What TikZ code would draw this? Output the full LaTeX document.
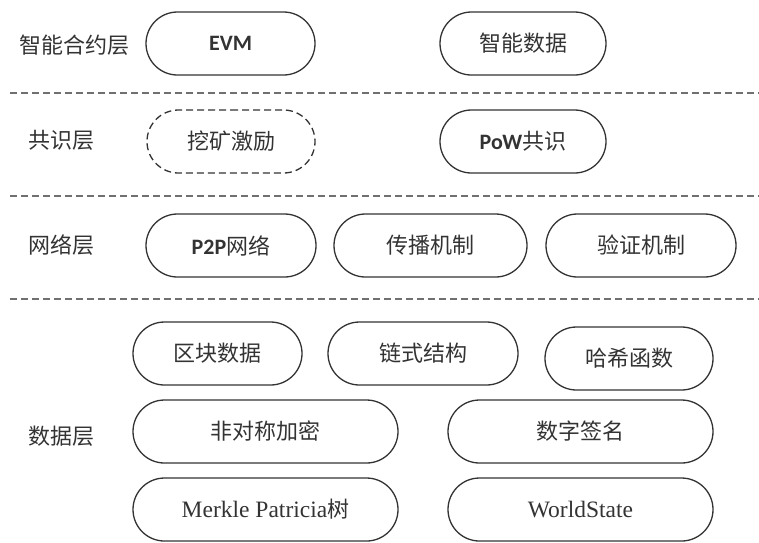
\documentclass[tikz,border=0pt]{standalone}
\usepackage{fontspec}
\setmainfont{Noto Sans CJK SC}
\newfontfamily\carl{Carlito}
\newfontfamily\tnr{Liberation Serif}
\usetikzlibrary{shapes.misc}
\definecolor{ink}{HTML}{333333}
\definecolor{sep}{HTML}{707070}
\tikzset{
  pill/.style={rounded rectangle, draw=ink, line width=1.3pt, text=ink,
    minimum height=63pt, inner sep=0pt, font=\fontsize{22}{24}\selectfont},
  dpill/.style={pill, dash pattern=on 7pt off 4pt},
  layer/.style={text=ink, inner sep=0pt, font=\fontsize{22}{24}\selectfont},
  sepline/.style={draw=sep, line width=1.8pt, dash pattern=on 7pt off 4pt}
}
\begin{document}
\begin{tikzpicture}[x=1pt,y=-1pt]
\useasboundingbox (0,0) rectangle (759,542);
% separators
\coordinate (s1a) at (10,93);  \coordinate (s1b) at (759,93);
\coordinate (s2a) at (10,196); \coordinate (s2b) at (759,196);
\coordinate (s3a) at (10,299); \coordinate (s3b) at (759,299);
\draw[sepline] (s1a) -- (s1b);
\draw[sepline] (s2a) -- (s2b);
\draw[sepline] (s3a) -- (s3b);
% layer labels
\node[layer] (l1) at (74,45) {智能合约层};
\node[layer] (l2) at (61,140) {共识层};
\node[layer] (l3) at (61,245) {网络层};
\node[layer] (l4) at (61,436) {数据层};
% smart contract layer
\node[pill, minimum width=169pt] (evm) at (230.5,43.5) {\carl\bfseries EVM};
\node[pill, minimum width=166pt] (sd) at (523,43.5) {智能数据};
% consensus layer
\node[dpill, minimum width=168pt] (mine) at (231,141.5) {挖矿激励};
\node[pill, minimum width=166pt] (pow) at (523,141.5) {{\carl\bfseries PoW}共识};
% network layer
\node[pill, minimum width=170pt] (p2p) at (231,245.5) {{\carl\bfseries P2P}网络};
\node[pill, minimum width=193pt] (spr) at (430.5,245.5) {传播机制};
\node[pill, minimum width=190pt] (ver) at (641,245.5) {验证机制};
% data layer
\node[pill, minimum width=169pt] (blk) at (217.5,353.5) {区块数据};
\node[pill, minimum width=190pt] (chn) at (423,353.5) {链式结构};
\node[pill, minimum width=168pt] (hsh) at (629,358.5) {哈希函数};
\node[pill, minimum width=265pt] (asy) at (265.5,431.5) {非对称加密};
\node[pill, minimum width=265pt] (sig) at (580.5,431.5) {数字签名};
\node[pill, minimum width=265pt] (mpt) at (265.5,509.5) {{\tnr\fontsize{23.5}{24}\selectfont Merkle Patricia}树};
\node[pill, minimum width=265pt] (ws) at (580.5,509.5) {\tnr\fontsize{23.5}{24}\selectfont WorldState};
\end{tikzpicture}
\end{document}
